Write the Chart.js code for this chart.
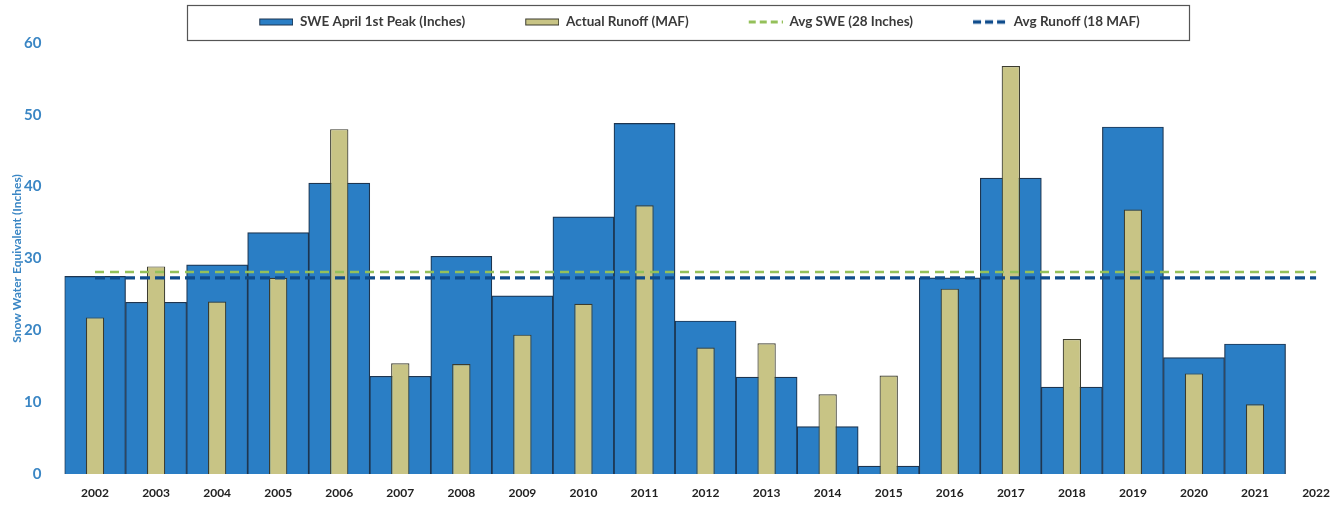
<!DOCTYPE html>
<html>
<head>
<meta charset="utf-8">
<script src="https://cdn.jsdelivr.net/npm/chart.js@4.4.1/dist/chart.umd.min.js"></script>
<style>
  html, body { margin: 0; padding: 0; background: #ffffff; }
  #wrap { width: 1342px; height: 507px; position: relative; }
</style>
</head>
<body>
<div id="wrap"><canvas id="swe-chart"></canvas></div>
<script>
// --- data ---
const years = [2002, 2003, 2004, 2005, 2006, 2007, 2008, 2009, 2010, 2011,
               2012, 2013, 2014, 2015, 2016, 2017, 2018, 2019, 2020, 2021];
const sweAprilPeak = [27.5, 23.9, 29.1, 33.6, 40.5, 13.6, 30.3, 24.8, 35.8, 48.8,
                      21.3, 13.5, 6.6, 1.1, 27.3, 41.2, 12.1, 48.3, 16.2, 18.1];
const actualRunoff = [21.8, 28.9, 24.0, 27.3, 48.0, 15.4, 15.3, 19.4, 23.7, 37.4,
                      17.6, 18.2, 11.1, 13.7, 25.8, 56.8, 18.8, 36.8, 14.0, 9.7];
const avgLineYears = [2002, 2022];
const AVG_SWE_LEVEL = 28.1;      // "Avg SWE (28 Inches)"
const AVG_RUNOFF_LEVEL = 27.3;   // "Avg Runoff (18 MAF)" as drawn on the SWE axis
const yTicks = [0, 10, 20, 30, 40, 50, 60];

const BLUE = '#2a7ec5';
const KHAKI = '#c8c485';
const GREEN = '#94c05a';
const NAVY = '#0f4c8c';
const AXIS_BLUE = '#3a86c4';
const FONT = "Lato, 'Open Sans', sans-serif";

const LEGEND_GAP = 47;
const ICON_W = 34;

// legend icons: blank lead-in on the left, icon on the right
function makeIcon(draw) {
  const c = document.createElement('canvas');
  c.width = LEGEND_GAP + ICON_W;
  c.height = 9;
  const g = c.getContext('2d');
  draw(g, LEGEND_GAP);
  return c;
}
const legendIcons = [
  makeIcon((g, x) => {
    g.fillStyle = BLUE; g.fillRect(x, 1.5, ICON_W, 6);
    g.strokeStyle = '#1d3550'; g.lineWidth = 1; g.strokeRect(x + 0.5, 1.5, ICON_W - 1, 6);
  }),
  makeIcon((g, x) => {
    g.fillStyle = KHAKI; g.fillRect(x, 1.5, ICON_W, 6);
    g.strokeStyle = '#3b3b2e'; g.lineWidth = 1; g.strokeRect(x + 0.5, 1.5, ICON_W - 1, 6);
  }),
  makeIcon((g, x) => {
    g.strokeStyle = GREEN; g.lineWidth = 3; g.setLineDash([7, 4]);
    g.beginPath(); g.moveTo(x, 4.5); g.lineTo(x + ICON_W, 4.5); g.stroke();
  }),
  makeIcon((g, x) => {
    g.strokeStyle = NAVY; g.lineWidth = 3.5; g.setLineDash([8, 4]);
    g.beginPath(); g.moveTo(x, 4.5); g.lineTo(x + ICON_W, 4.5); g.stroke();
  })
];

// thin frame around the legend row
const legendFrame = {
  id: 'legendFrame',
  afterDraw(chart) {
    const boxes = chart.legend && chart.legend.legendHitBoxes;
    if (!boxes || !boxes.length) return;
    const first = boxes[0];
    const last = boxes[boxes.length - 1];
    const left = first.left + LEGEND_GAP - 72;
    const right = last.left + last.width + 49;
    const ctx = chart.ctx;
    ctx.save();
    ctx.strokeStyle = '#555555';
    ctx.lineWidth = 1.2;
    ctx.strokeRect(Math.round(left) + 0.5, 5.5, Math.round(right - left), 35);
    ctx.restore();
  }
};

const ctx = document.getElementById('swe-chart').getContext('2d');

new Chart(ctx, {
  type: 'bar',
  data: {
    datasets: [
      {
        label: 'SWE April 1st Peak (Inches)',
        data: years.map((y, i) => ({ x: y, y: sweAprilPeak[i] })),
        backgroundColor: BLUE,
        borderColor: '#1d3550',
        borderWidth: 1.2,
        barPercentage: 1,
        categoryPercentage: 1,
        grouped: false,
        order: 3
      },
      {
        label: 'Actual Runoff (MAF)',
        data: years.map((y, i) => ({ x: y, y: actualRunoff[i] })),
        backgroundColor: KHAKI,
        borderColor: '#3b3b2e',
        borderWidth: 1.2,
        barPercentage: 0.3,
        categoryPercentage: 1,
        grouped: false,
        order: 2
      },
      {
        type: 'line',
        label: 'Avg SWE (28 Inches)',
        data: avgLineYears.map(y => ({ x: y, y: AVG_SWE_LEVEL })),
        borderColor: GREEN,
        backgroundColor: GREEN,
        borderWidth: 2.5,
        borderDash: [9, 6],
        pointRadius: 0,
        fill: false,
        order: 1
      },
      {
        type: 'line',
        label: 'Avg Runoff (18 MAF)',
        data: avgLineYears.map(y => ({ x: y, y: AVG_RUNOFF_LEVEL })),
        borderColor: NAVY,
        backgroundColor: NAVY,
        borderWidth: 3.2,
        borderDash: [10, 5],
        pointRadius: 0,
        fill: false,
        order: 0
      }
    ]
  },
  options: {
    responsive: true,
    maintainAspectRatio: false,
    animation: false,
    layout: {
      padding: { top: 2.25, left: 10, right: 0, bottom: 7 }
    },
    plugins: {
      legend: {
        position: 'top',
        align: 'center',
        labels: {
          usePointStyle: true,
          pointStyleWidth: LEGEND_GAP + ICON_W,
          padding: 13,
          color: '#3a3a3a',
          font: { family: FONT, size: 13.5, weight: 'bold' },
          generateLabels(chart) {
            const items = Chart.defaults.plugins.legend.labels.generateLabels(chart);
            items.forEach(it => { it.pointStyle = legendIcons[it.datasetIndex]; });
            return items.sort((a, b) => a.datasetIndex - b.datasetIndex);
          }
        }
      },
      title: {
        display: true,
        text: '',
        weight: 500,
        font: { size: 1 },
        padding: { top: 0, bottom: 3 }
      },
      tooltip: { enabled: false }
    },
    scales: {
      x: {
        type: 'linear',
        min: 2001.5,
        max: 2022.31,
        offset: false,
        grid: { display: false, drawTicks: false },
        border: { display: false },
        afterFit: function(axis) { axis.height = 26; },
        ticks: {
          stepSize: 1,
          includeBounds: false,
          autoSkip: false,
          maxRotation: 0,
          padding: 12,
          color: '#222222',
          font: { family: FONT, size: 12, weight: 'bold' },
          callback: function(value) {
            return Number.isInteger(value) ? String(value) : '';
          }
        }
      },
      y: {
        min: 0,
        max: 60,
        afterBuildTicks: function(axis) {
          axis.ticks = yTicks.map(v => ({ value: v }));
        },
        afterFit: function(axis) { axis.width = 54.5; },
        grid: { display: false },
        border: { display: false },
        ticks: {
          padding: 15,
          color: AXIS_BLUE,
          font: { family: FONT, size: 15, weight: 'bold' }
        },
        title: {
          display: true,
          text: 'Snow Water Equivalent (Inches)',
          color: AXIS_BLUE,
          padding: { top: 0, bottom: 6 },
          font: { family: FONT, size: 12, weight: 'bold' }
        }
      }
    }
  },
  plugins: [legendFrame]
});
</script>
</body>
</html>
